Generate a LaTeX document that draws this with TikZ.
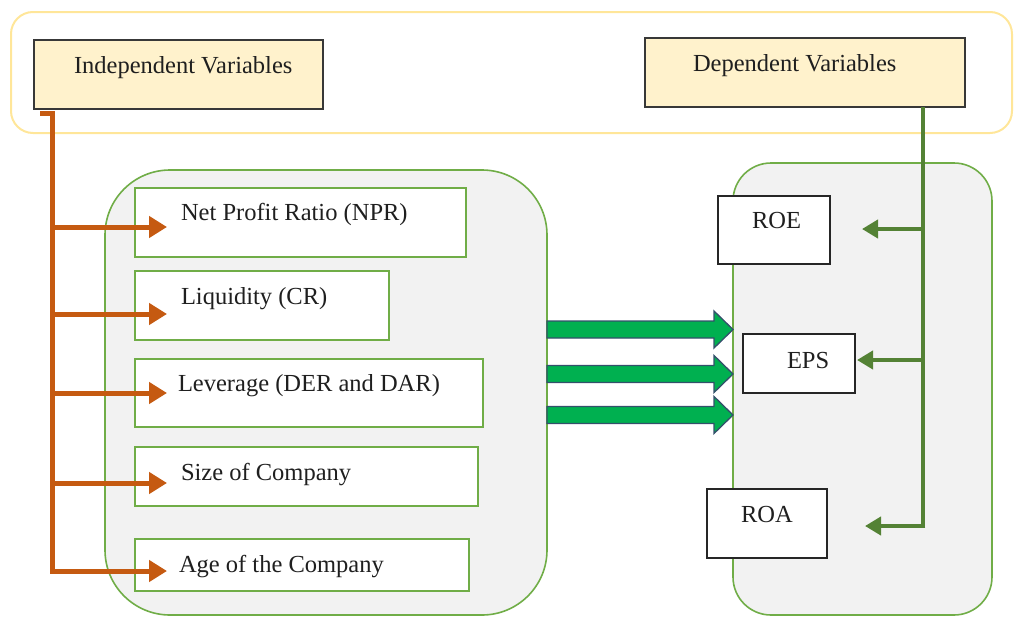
\documentclass[tikz,border=0pt]{standalone}
\usepackage{fontspec}
\setmainfont{Liberation Serif}
\usetikzlibrary{arrows.meta,calc}

\definecolor{hdrfill}{HTML}{FFF2CC}
\definecolor{bandline}{HTML}{FFE699}
\definecolor{panelfill}{HTML}{F2F2F2}
\definecolor{panelline}{HTML}{70AD47}
\definecolor{ivline}{HTML}{C55A11}
\definecolor{dvline}{HTML}{548235}
\definecolor{flowfill}{HTML}{00B050}
\definecolor{flowline}{HTML}{34506B}

\begin{document}
\begin{tikzpicture}[x=1pt,y=-1pt,
  every node/.style={font=\fontsize{24.5}{29}\selectfont, inner sep=0pt, outer sep=0pt},
  band/.style={draw=bandline, line width=2pt, rounded corners=22pt, anchor=north west},
  hdr/.style={draw=black!78, line width=2.2pt, fill=hdrfill, anchor=north west},
  panel/.style={draw=panelline, line width=1.6pt, fill=panelfill, anchor=north west},
  ivbox/.style={draw=panelline, line width=2pt, fill=white, anchor=north west},
  dvbox/.style={draw=black!85, line width=2pt, fill=white, anchor=north west},
  txt/.style={anchor=base west, text=black!88},
  ivarrow/.style={draw=ivline, line width=5pt, line join=miter,
    -{Triangle[length=18pt,width=21pt]}},
  dvarrow/.style={draw=dvline, line width=4.5pt, line join=miter,
    -{Triangle[length=16pt,width=18pt]}},
  dvlink/.style={draw=dvline, line width=4.5pt},
  blockarrow/.style={draw=flowline, line width=1.3pt, fill=flowfill, line join=miter,
    to path={let \p1=(\tikztostart), \p2=(\tikztotarget) in
      (\x1,\y1+8.5pt) -- (\x2-19pt,\y1+8.5pt) -- (\x2-19pt,\y1+18.5pt) -- (\x2,\y1)
      -- (\x2-19pt,\y1-18.5pt) -- (\x2-19pt,\y1-8.5pt) -- (\x1,\y1-8.5pt) -- cycle}},
]
\useasboundingbox (0,0) rectangle (1015,616);

% header band with the two variable groups
\node[band, minimum width=1001pt, minimum height=121pt] (band) at (11,12) {};
\node[hdr, minimum width=289pt, minimum height=69pt] (indep) at (34,40) {};
\node[txt] (indeptxt) at (74,73) {Independent Variables};
\node[hdr, minimum width=320pt, minimum height=69pt] (dep) at (645,38) {};
\node[txt] (deptxt) at (693,71) {Dependent Variables};

% grey panels
\node[panel, rounded corners=65pt, minimum width=442pt, minimum height=445pt] (left) at (105,170) {};
\node[panel, rounded corners=38pt, minimum width=259pt, minimum height=452pt] (right) at (733,163) {};

% independent variables
\node[ivbox, minimum width=331pt, minimum height=69pt] (npr) at (135,188) {};
\node[txt] at (181,220) {Net Profit Ratio (NPR)};
\node[ivbox, minimum width=254pt, minimum height=69pt] (cr) at (135,271) {};
\node[txt] at (181,304) {Liquidity (CR)};
\node[ivbox, minimum width=348pt, minimum height=68pt] (lev) at (135,359) {};
\node[txt] at (178,391) {Leverage (DER and DAR)};
\node[ivbox, minimum width=343pt, minimum height=59pt] (size) at (135,447) {};
\node[txt] at (181,480) {Size of Company};
\node[ivbox, minimum width=334pt, minimum height=52pt] (age) at (135,539) {};
\node[txt] at (179,572) {Age of the Company};

% dependent variables
\node[dvbox, minimum width=112pt, minimum height=68pt] (roe) at (718,196) {};
\node[txt] at (752,228) {ROE};
\node[dvbox, line width=2.6pt, minimum width=112pt, minimum height=59pt] (eps) at (743,334) {};
\node[txt] at (787,368) {EPS};
\node[dvbox, minimum width=120pt, minimum height=69pt] (roa) at (707,489) {};
\node[txt] at (741,522) {ROA};

% orange feeder lines into the independent variables
\coordinate (ivhook) at (40,113);
\coordinate (ivtrunk) at (52.5,113);
\coordinate (nprin) at (167,227);
\coordinate (crin) at (167,314);
\coordinate (levin) at (167,393);
\coordinate (sizein) at (167,483);
\coordinate (agein) at (167,571);
\draw[ivarrow] (ivhook) -| (agein -| ivtrunk) -- (agein);
\foreach \t in {nprin,crin,levin,sizein}
  \draw[ivarrow] (\t -| ivtrunk) -- (\t);

% green feeder lines into the dependent variables
\coordinate (dvtrunk) at (923,107);
\coordinate (roein) at (862,229);
\coordinate (epsin) at (857,360);
\coordinate (roain) at (865,526);
\draw[dvlink] (dvtrunk) -- (roain -| dvtrunk);
\draw[dvarrow] ([xshift=2.25pt]roain -| dvtrunk) -- (roain);
\draw[dvarrow] (roein -| dvtrunk) -- (roein);
\draw[dvarrow] (epsin -| dvtrunk) -- (epsin);

% block arrows from the independent to the dependent panel
\coordinate (f1s) at (547,329.5); \coordinate (f1e) at (733,329.5);
\coordinate (f2s) at (547,374);   \coordinate (f2e) at (733,374);
\coordinate (f3s) at (547,415);   \coordinate (f3e) at (733,415);
\draw[blockarrow] (f1s) to (f1e);
\draw[blockarrow] (f2s) to (f2e);
\draw[blockarrow] (f3s) to (f3e);
\end{tikzpicture}
\end{document}
